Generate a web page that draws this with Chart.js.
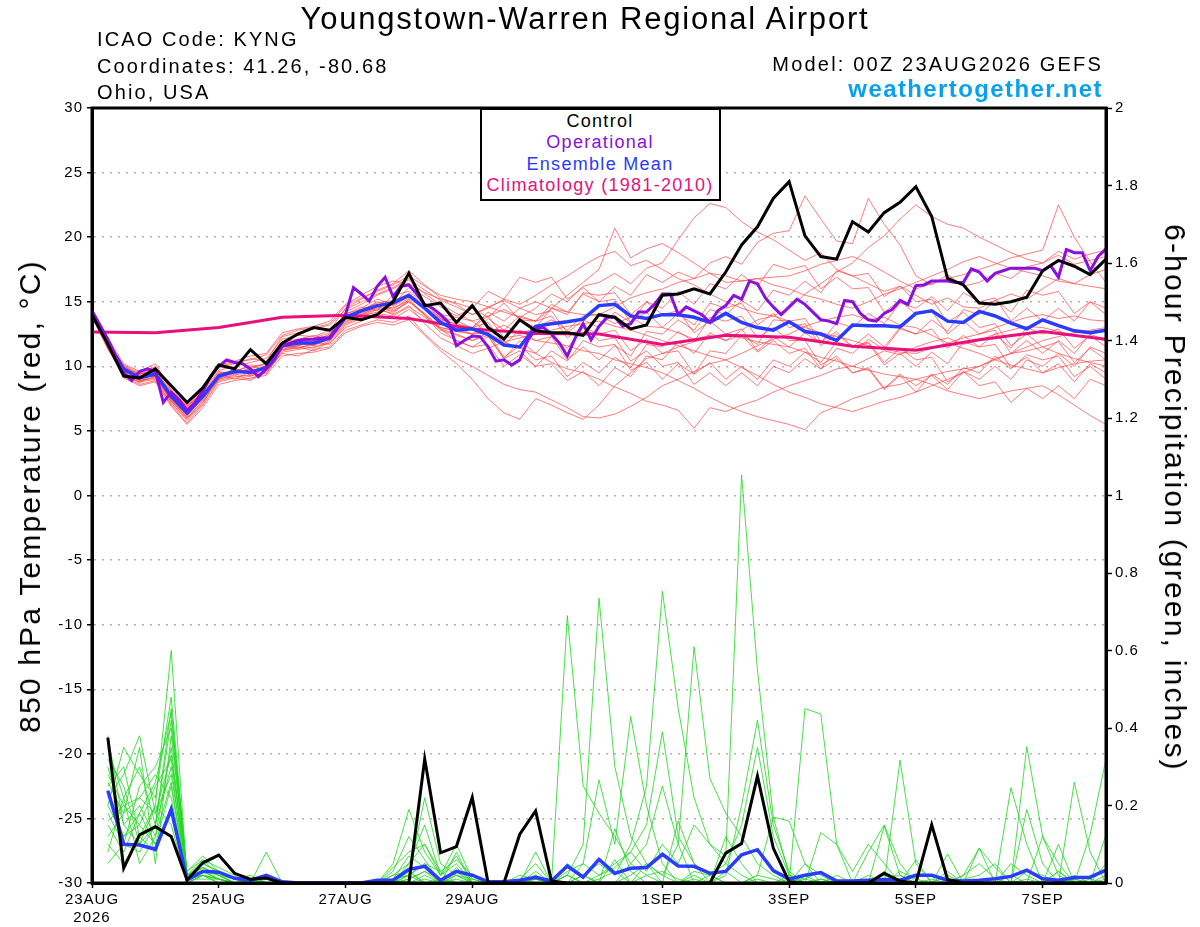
<!DOCTYPE html>
<html>
<head>
<meta charset="utf-8">
<title>Youngstown-Warren Regional Airport - GEFS</title>
<script src="https://cdn.jsdelivr.net/npm/chart.js@4.4.0/dist/chart.umd.min.js"></script>
<style>
    html, body { margin: 0; padding: 0; background: #fff; }
    #wrap { position: relative; width: 1200px; height: 927px; overflow: hidden;
            font-family: "Liberation Sans", Arial, sans-serif; color: #000; }
    #wrap canvas { position: absolute; left: 0; top: 0; }
    .txt { position: absolute; white-space: nowrap; line-height: 1; }
    #title { left: 585px; top: 3px; font-size: 31px; letter-spacing: 1.8px; transform: translateX(-50%); }
    .info { left: 97px; font-size: 20px; letter-spacing: 2.1px; }
    .model { right: 97px; font-size: 20px; letter-spacing: 2.2px; }
    #site { right: 97px; top: 77px; font-size: 24px; font-weight: bold; letter-spacing: 1.4px; color: #0aa0f0; }
    #legendBox { position: absolute; left: 480px; top: 108px; width: 237px; height: 89px;
                 border: 2px solid #000; background: #fff; }
    .leg { left: 600px; font-size: 18px; letter-spacing: 1.3px; transform: translateX(-50%); }
    .axisTitle { font-size: 30px; letter-spacing: 2.2px; }
    #leftTitle { left: 30px; top: 496px; transform: translate(-50%, -50%) rotate(-90deg); }
    #rightTitle { left: 1175px; top: 498px; transform: translate(-50%, -50%) rotate(90deg); }
</style>
</head>
<body>
<div id="wrap">
    <canvas id="gefsChart" width="1200" height="927"></canvas>

    <div class="txt" id="title">Youngstown-Warren Regional Airport</div>
    <div class="txt info" style="top:29px">ICAO Code: KYNG</div>
    <div class="txt info" style="top:56px">Coordinates: 41.26, -80.68</div>
    <div class="txt info" style="top:82px">Ohio, USA</div>
    <div class="txt model" style="top:54px">Model: 00Z 23AUG2026 GEFS</div>
    <div class="txt" id="site">weathertogether.net</div>

    <div id="legendBox"></div>
    <div class="txt leg" style="top:112px; color:#000">Control</div>
    <div class="txt leg" style="top:133px; color:#8a10e0">Operational</div>
    <div class="txt leg" style="top:155px; color:#2a3cff">Ensemble Mean</div>
    <div class="txt leg" style="top:176px; color:#e8107c">Climatology (1981-2010)</div>

    <div class="txt axisTitle" id="leftTitle">850 hPa Temperature (red, °C)</div>
    <div class="txt axisTitle" id="rightTitle">6-hour Precipitation (green, inches)</div>
</div>

<script>
// time steps (hours) for the different series
const stepHours = 6;        // control, mean, members
const opStepHours = 3;      // operational run is 3-hourly
const climoStepHours = 24;  // climatology is daily

// x axis labels
const tickHours = [0, 48, 96, 144, 216, 264, 312, 360];
const tickLabels = [["23AUG", "2026"], "25AUG", "27AUG", "29AUG", "1SEP", "3SEP", "5SEP", "7SEP"];

// 850 hPa temperature (C), 6-hourly from 00Z 23AUG
const tempControl = [
    14.0, 11.7, 9.25, 9.1, 9.8, 8.5, 7.2, 8.35, 10.1, 9.8, 11.3, 10.2, 11.8,
    12.5, 13.0, 12.8, 13.8, 13.6, 14.0, 15.0, 17.2, 14.7, 14.9, 13.4, 14.7,
    13.0, 12.1, 13.6, 12.75, 12.6, 12.6, 12.4, 14.0, 13.8, 12.9, 13.2, 15.5,
    15.6, 16.0, 15.6, 17.3, 19.4, 20.8, 23.0, 24.3, 20.1, 18.5, 18.3, 21.2,
    20.4, 21.9, 22.7, 23.9, 21.6, 16.8, 16.3, 14.9, 14.8, 15.0, 15.35, 17.4,
    18.2, 17.75, 17.1, 18.3
];

const tempEnsMean = [
    14.0, 11.8, 9.8, 9.1, 9.4, 7.7, 6.4, 7.7, 9.25, 9.6, 9.55, 9.9, 11.6,
    11.8, 11.8, 12.2, 13.8, 14.3, 14.7, 14.9, 15.5, 14.5, 13.4, 12.8, 12.9,
    12.45, 11.65, 11.5, 13.1, 13.3, 13.45, 13.65, 14.7, 14.8, 13.9, 13.7, 14.0,
    14.0, 13.8, 13.4, 14.1, 13.4, 13.0, 12.8, 13.45, 12.7, 12.5, 12.0, 13.2,
    13.15, 13.15, 13.05, 14.1, 14.3, 13.5, 13.4, 14.25, 13.9, 13.35, 12.9, 13.6,
    13.15, 12.75, 12.6, 12.8
];

// operational run, 3-hourly
const tempOperational = [
    14.3, 13.2, 12.1, 10.8, 9.5, 8.9, 9.6, 9.8, 9.6, 7.2, 8.0, 7.4, 6.6,
    7.2, 8.1, 9.25, 10.0, 10.5, 10.3, 10.2, 9.8, 9.2, 9.8, 10.5, 11.6,
    11.8, 12.0, 12.1, 12.1, 12.2, 12.2, 13.0, 14.0, 16.1, 15.6, 15.05, 16.2,
    16.9, 15.4, 16.2, 16.3, 15.6, 14.8, 14.5, 14.0, 13.4, 11.6, 12.0, 12.35,
    12.3, 11.5, 10.4, 10.5, 10.1, 10.5, 12.0, 12.9, 13.0, 12.5, 11.8, 10.8,
    12.2, 13.3, 12.05, 13.1, 13.8, 13.8, 13.1, 13.3, 14.2, 14.2, 14.8, 15.6,
    15.6, 14.0, 14.6, 14.3, 14.0, 13.4, 14.3, 14.7, 15.5, 15.2, 16.6, 16.4,
    15.3, 14.6, 14.0, 14.6, 15.2, 14.8, 14.2, 13.6, 13.5, 13.3, 15.1, 15.0,
    14.1, 13.6, 13.5, 14.1, 14.4, 15.1, 14.8, 16.25, 16.3, 16.6, 16.6, 16.6,
    16.5, 16.5, 17.55, 17.3, 16.6, 17.2, 17.4, 17.6, 17.6, 17.6, 17.6, 17.4,
    17.8, 16.9, 19.05, 18.8, 18.8, 17.4, 18.5, 19.1
];

// 1981-2010 climatology, daily
const tempClimo = [12.65, 12.6, 13.0, 13.8, 13.95, 13.7, 12.9, 12.55, 12.5,
    11.7, 12.4, 12.25, 11.55, 11.25, 12.05, 12.7, 12.1];

// ensemble members, 6-hourly (twelve values per row = three days)
const tempMem01 = [
    14.2, 11.9, 9.6, 9.0, 9.8, 7.6, 6.2, 7.9, 9.6, 9.4, 9.9, 10.2,
    11.9, 12.1, 12.4, 12.0, 13.6, 14.5, 15.2, 14.8, 16.1, 15.4, 14.6, 13.9,
    14.5, 13.8, 14.9, 13.6, 13.5, 14.8, 14.2, 15.6, 15.0, 16.2, 15.5, 17.1,
    16.5, 17.3, 16.8, 18.0, 18.5, 17.9, 19.6, 20.3, 20.5, 23.2, 21.4, 19.7,
    19.5, 23.0, 21.0, 19.4, 17.0, 16.3, 17.1, 16.2, 16.5, 17.2, 16.8, 17.7,
    18.0, 18.9, 18.3, 18.7, 19.0
];
const tempMem02 = [
    13.9, 11.6, 9.9, 9.3, 9.2, 7.9, 6.6, 7.5, 9.0, 9.9, 9.3, 10.1,
    11.4, 11.6, 12.2, 12.6, 14.0, 14.6, 14.3, 15.5, 15.8, 14.9, 13.7, 13.2,
    13.0, 13.9, 14.4, 13.8, 14.5, 15.6, 15.0, 16.2, 16.5, 17.2, 16.4, 17.6,
    18.0, 19.8, 21.5, 22.6, 22.3, 21.2, 20.4, 19.8, 19.0, 18.2, 18.8, 17.5,
    17.0, 16.4, 15.8, 16.2, 15.5, 14.8, 15.3, 14.6, 14.5, 15.1, 15.6, 15.2,
    16.0, 16.8, 16.4, 17.1, 17.5
];
const tempMem03 = [
    14.1, 11.5, 9.4, 8.7, 9.6, 7.2, 5.8, 7.1, 9.4, 9.0, 9.6, 9.4,
    11.2, 11.5, 11.2, 11.9, 13.3, 13.8, 14.4, 14.1, 15.2, 14.0, 12.8, 12.4,
    12.0, 12.6, 13.2, 12.5, 13.0, 13.6, 12.8, 13.9, 14.0, 13.3, 13.8, 13.1,
    13.0, 12.6, 12.1, 12.4, 12.0, 12.8, 13.6, 13.9, 14.5, 15.6, 16.4, 17.3,
    18.0, 19.2, 20.1, 21.4, 22.5, 21.6, 21.0, 20.7, 20.0, 19.4, 18.8, 18.3,
    18.0, 18.6, 17.9, 18.2, 18.5
];
const tempMem04 = [
    13.8, 11.9, 10.1, 9.5, 9.3, 8.1, 6.9, 8.0, 9.1, 9.7, 9.4, 10.0,
    11.6, 11.4, 11.7, 12.3, 13.9, 14.2, 14.8, 14.5, 15.1, 13.9, 12.6, 12.0,
    11.5, 12.3, 10.6, 11.2, 10.0, 10.2, 8.9, 9.6, 8.5, 9.9, 9.2, 10.8,
    10.5, 11.9, 11.0, 12.6, 12.0, 12.4, 11.1, 12.0, 11.0, 11.4, 9.8, 10.6,
    9.5, 9.8, 8.2, 9.3, 8.0, 9.4, 8.6, 9.9, 9.5, 10.8, 9.8, 10.9,
    10.5, 10.8, 9.2, 10.0, 9.0
];
const tempMem05 = [
    14.0, 12.1, 9.7, 9.2, 9.5, 7.4, 6.3, 7.8, 9.3, 9.5, 9.8, 10.3,
    11.8, 12.0, 11.6, 12.4, 14.2, 14.8, 15.5, 16.0, 16.7, 15.6, 14.8, 14.1,
    13.5, 12.6, 11.9, 11.4, 11.0, 10.3, 9.8, 9.5, 9.0, 8.4, 7.9, 7.3,
    7.0, 6.6, 5.2, 6.8, 6.5, 7.0, 7.4, 8.0, 8.5, 8.9, 9.3, 9.8,
    10.0, 10.6, 11.2, 10.9, 11.5, 11.9, 12.2, 11.7, 12.0, 12.5, 12.8, 13.1,
    13.0, 12.7, 12.4, 12.2, 12.0
];
const tempMem06 = [
    14.3, 11.4, 9.2, 8.6, 8.9, 7.0, 5.6, 7.0, 8.8, 9.1, 8.9, 9.6,
    11.0, 10.8, 11.3, 11.5, 12.8, 13.2, 13.6, 13.4, 13.9, 12.5, 11.4, 10.6,
    10.0, 9.3, 8.6, 8.2, 8.0, 7.4, 6.8, 6.1, 6.0, 6.3, 6.9, 7.6,
    8.5, 9.0, 9.6, 10.2, 10.5, 11.0, 11.6, 12.1, 12.5, 13.1, 13.5, 13.8,
    14.0, 13.6, 13.8, 13.2, 13.0, 12.4, 11.8, 11.4, 11.0, 10.5, 10.1, 9.8,
    9.5, 9.9, 10.2, 10.4, 10.5
];
const tempMem07 = [
    14.0, 11.8, 9.9, 9.4, 9.7, 8.0, 6.8, 8.2, 9.9, 10.2, 10.6, 10.4,
    12.3, 12.6, 12.9, 13.2, 14.4, 15.0, 15.6, 16.1, 16.8, 15.9, 15.1, 14.6,
    14.0, 14.5, 15.2, 14.8, 15.5, 16.3, 17.0, 17.8, 18.5, 18.9, 17.8, 18.2,
    17.5, 16.8, 16.3, 15.6, 15.0, 14.5, 14.1, 13.9, 13.5, 13.0, 12.6, 12.3,
    12.0, 11.6, 11.3, 11.1, 11.0, 11.4, 11.8, 12.2, 12.5, 13.0, 13.4, 13.8,
    14.0, 13.7, 13.9, 13.6, 13.5
];
const tempMem08 = [
    14.2, 12.0, 9.5, 8.9, 9.1, 7.3, 6.1, 7.6, 9.5, 9.6, 10.1, 10.0,
    11.5, 11.9, 12.1, 12.2, 13.7, 14.0, 14.6, 14.2, 15.0, 14.1, 13.0, 12.8,
    12.5, 12.9, 12.2, 12.4, 12.0, 11.8, 11.6, 11.2, 11.0, 10.5, 10.2, 9.9,
    9.5, 8.9, 8.3, 7.6, 7.0, 6.5, 6.1, 5.8, 5.5, 5.1, 6.4, 6.9,
    7.5, 7.9, 8.4, 8.6, 9.0, 9.3, 9.6, 9.8, 10.0, 10.6, 11.0, 11.2,
    11.5, 11.0, 10.6, 10.3, 10.0
];
const tempMem09 = [
    13.9, 11.7, 9.8, 9.0, 9.4, 7.7, 6.5, 7.7, 9.2, 9.8, 9.5, 9.8,
    11.7, 11.8, 12.0, 12.1, 13.9, 14.3, 15.0, 14.7, 15.5, 14.6, 13.8, 13.5,
    13.0, 14.2, 13.5, 14.5, 14.0, 14.3, 12.6, 13.6, 13.0, 14.2, 13.4, 15.0,
    14.5, 15.8, 14.8, 16.4, 16.0, 17.1, 16.2, 17.9, 17.5, 17.8, 16.0, 16.9,
    16.0, 16.1, 14.2, 15.1, 14.0, 14.3, 12.5, 13.5, 12.5, 12.8, 11.0, 12.0,
    11.0, 12.0, 11.0, 12.5, 12.0
];
const tempMem10 = [
    14.1, 11.6, 9.6, 9.1, 9.6, 7.5, 6.0, 7.3, 9.0, 9.3, 9.0, 9.7,
    11.3, 11.4, 11.8, 11.7, 13.2, 13.7, 14.1, 13.9, 14.6, 13.8, 12.9, 12.5,
    12.0, 12.4, 10.6, 12.0, 11.0, 12.3, 11.4, 13.0, 12.5, 12.8, 11.2, 12.1,
    11.0, 11.2, 9.4, 10.3, 9.0, 10.0, 9.0, 10.5, 10.0, 11.1, 10.3, 11.9,
    11.5, 11.9, 10.3, 11.4, 10.5, 10.7, 8.8, 9.6, 8.5, 8.8, 7.2, 8.3,
    7.5, 8.5, 7.5, 9.0, 8.5
];
const tempMem11 = [
    14.0, 11.9, 10.0, 9.3, 9.9, 7.8, 6.7, 8.1, 9.7, 10.0, 10.3, 10.6,
    12.1, 12.4, 12.3, 12.8, 14.5, 15.2, 15.9, 16.4, 17.4, 16.3, 15.3, 14.8,
    14.0, 14.6, 15.1, 14.5, 15.0, 14.5, 14.2, 14.0, 14.0, 14.6, 15.3, 15.7,
    16.0, 16.5, 16.8, 17.2, 17.0, 16.6, 16.8, 16.3, 16.0, 15.5, 15.2, 14.8,
    14.5, 15.0, 15.6, 16.0, 16.5, 17.0, 17.5, 18.1, 18.5, 18.0, 17.6, 17.3,
    17.0, 16.6, 16.4, 16.2, 16.0
];
const tempMem12 = [
    14.4, 11.5, 9.1, 8.5, 8.8, 6.9, 5.5, 6.8, 8.6, 8.9, 9.1, 9.3,
    10.8, 11.0, 11.1, 11.4, 12.6, 13.1, 13.4, 13.2, 13.6, 12.4, 11.2, 10.2,
    9.0, 7.5, 6.4, 5.9, 7.5, 7.0, 6.4, 5.9, 7.0, 8.5, 9.5, 10.6,
    11.0, 11.5, 11.9, 12.2, 12.5, 12.2, 11.9, 11.7, 11.5, 11.1, 10.7, 10.4,
    10.0, 9.7, 9.4, 9.2, 9.0, 8.6, 8.1, 7.8, 7.5, 7.8, 8.1, 8.3,
    8.5, 7.8, 7.0, 6.2, 5.5
];
const tempMem13 = [
    13.9, 11.8, 9.7, 9.1, 9.3, 7.8, 6.5, 7.9, 9.4, 9.7, 9.6, 10.0,
    11.6, 11.7, 11.9, 12.5, 14.1, 14.4, 14.9, 15.1, 15.6, 14.8, 14.0, 13.8,
    13.5, 13.9, 12.2, 13.6, 13.0, 14.5, 14.0, 15.7, 15.5, 15.7, 14.0, 15.0,
    14.0, 14.3, 12.6, 13.5, 12.5, 12.9, 11.2, 12.3, 11.5, 12.6, 11.8, 13.4,
    13.0, 14.1, 13.3, 14.9, 14.5, 15.4, 14.3, 15.7, 15.0, 15.3, 13.5, 14.5,
    13.5, 14.5, 13.5, 15.0, 14.5
];
const tempMem14 = [
    14.2, 11.7, 9.3, 8.8, 9.0, 7.1, 5.9, 7.2, 8.9, 9.2, 9.3, 9.5,
    11.1, 11.3, 11.5, 11.8, 13.0, 13.5, 14.0, 13.7, 14.4, 13.5, 13.0, 12.7,
    12.5, 12.6, 10.7, 11.6, 10.5, 10.8, 9.2, 10.3, 9.5, 10.7, 9.9, 11.7,
    11.5, 12.7, 11.9, 13.8, 13.5, 13.9, 12.2, 13.0, 12.0, 12.0, 10.1, 10.8,
    9.5, 9.9, 8.3, 9.4, 8.5, 9.3, 8.2, 9.6, 9.0, 10.0, 9.0, 10.5,
    10.0, 11.0, 10.0, 11.5, 11.0
];
const tempMem15 = [
    14.0, 12.2, 10.2, 9.6, 10.2, 8.2, 7.0, 8.4, 10.1, 10.4, 10.8, 11.0,
    12.6, 12.9, 13.1, 13.5, 14.8, 15.5, 16.2, 16.6, 16.4, 15.7, 15.2, 14.9,
    14.5, 15.8, 15.2, 16.9, 16.5, 16.9, 15.2, 16.1, 15.0, 15.2, 13.4, 14.2,
    13.0, 14.1, 13.2, 14.9, 14.5, 14.9, 13.2, 14.1, 13.0, 13.3, 11.6, 12.5,
    11.5, 12.5, 11.5, 13.0, 12.5, 13.6, 12.7, 14.4, 14.0, 15.1, 14.2, 15.9,
    15.5, 15.8, 14.1, 15.0, 14.0
];
const tempMem16 = [
    13.8, 11.3, 9.5, 8.9, 9.2, 7.4, 6.2, 7.5, 9.0, 9.4, 9.2, 9.9,
    11.3, 11.6, 11.4, 12.0, 13.4, 13.9, 14.5, 14.0, 14.7, 13.3, 12.2, 11.6,
    11.0, 11.4, 11.9, 12.2, 12.5, 12.8, 13.1, 13.3, 13.5, 13.1, 12.8, 12.4,
    12.0, 11.6, 11.2, 10.8, 10.5, 9.9, 9.3, 8.6, 8.0, 7.6, 7.1, 6.8,
    6.5, 6.9, 7.3, 7.6, 8.0, 8.5, 9.0, 9.5, 10.0, 10.5, 11.0, 11.5,
    12.0, 12.3, 12.6, 12.8, 13.0
];
const tempMem17 = [
    14.1, 11.8, 9.8, 9.2, 9.6, 7.6, 6.3, 7.7, 9.4, 9.6, 10.0, 9.8,
    11.7, 11.9, 12.1, 12.4, 13.8, 14.1, 14.7, 14.4, 15.3, 14.4, 13.6, 13.3,
    13.0, 13.4, 11.7, 12.8, 12.0, 12.3, 10.5, 11.5, 10.5, 11.6, 10.8, 12.7,
    12.5, 13.6, 12.8, 14.4, 14.0, 15.1, 14.3, 15.9, 15.5, 16.6, 15.7, 17.4,
    17.0, 17.2, 15.4, 16.2, 15.0, 15.2, 13.4, 14.2, 13.0, 13.3, 11.6, 12.5,
    11.5, 11.9, 10.3, 11.4, 10.5
];
const tempMem18 = [
    13.9, 11.6, 9.4, 8.8, 9.2, 7.3, 6.0, 7.4, 9.1, 9.5, 9.7, 9.9,
    11.5, 11.6, 11.9, 12.2, 13.5, 13.9, 14.2, 14.6, 15.4, 14.5, 13.7, 13.0,
    12.5, 13.7, 12.8, 13.9, 13.5, 13.9, 12.2, 13.1, 12.0, 12.2, 10.4, 11.2,
    10.0, 10.3, 8.6, 9.5, 8.5, 9.5, 8.5, 10.0, 9.5, 10.6, 9.8, 11.4,
    11.0, 12.1, 11.3, 12.9, 12.5, 12.9, 11.4, 12.4, 11.5, 11.7, 9.9, 10.7,
    9.5, 10.2, 8.8, 10.2, 9.5
];
const tempMem19 = [
    14.0, 12.0, 10.0, 9.4, 10.0, 8.1, 6.9, 8.3, 10.0, 10.3, 10.5, 10.9,
    12.4, 12.8, 13.0, 13.3, 14.7, 15.3, 15.8, 16.3, 17.0, 16.2, 15.5, 15.2,
    15.0, 14.6, 14.2, 13.8, 13.5, 14.5, 15.5, 16.5, 17.5, 20.7, 18.4, 19.1,
    19.5, 18.8, 18.0, 17.2, 16.5, 16.6, 16.8, 16.9, 17.0, 17.4, 17.9, 18.2,
    18.5, 18.0, 17.3, 16.6, 16.0, 16.4, 16.8, 17.1, 17.5, 17.9, 18.4, 18.7,
    19.0, 22.5, 20.0, 18.1, 16.5
];
const tempMem20 = [
    14.1, 11.7, 9.7, 9.2, 9.4, 7.5, 6.3, 7.6, 9.3, 9.6, 9.4, 9.9,
    11.5, 11.8, 11.6, 12.1, 13.6, 14.0, 14.6, 14.3, 15.0, 14.0, 12.9, 12.0,
    11.5, 11.7, 10.0, 10.9, 10.0, 11.2, 10.4, 12.0, 11.5, 11.7, 9.7, 10.3,
    9.0, 10.2, 9.4, 11.2, 11.0, 12.4, 11.7, 13.6, 13.5, 13.7, 11.9, 12.7,
    11.5, 11.8, 10.1, 11.0, 10.0, 11.1, 10.2, 11.9, 11.5, 12.5, 11.4, 13.0,
    12.5, 12.9, 11.4, 12.4, 11.5
];
const tempMembers = [tempMem01, tempMem02, tempMem03, tempMem04, tempMem05, tempMem06, tempMem07,
    tempMem08, tempMem09, tempMem10, tempMem11, tempMem12, tempMem13, tempMem14, tempMem15,
    tempMem16, tempMem17, tempMem18, tempMem19, tempMem20];

// 6-hour precipitation (inches), first value is the 06Z 23AUG accumulation
const precipControl = [
    0.375, 0.038, 0.124, 0.145, 0.12, 0.008, 0.052, 0.072, 0.025, 0.01, 0.013, 0,
    0, 0, 0, 0, 0, 0, 0, 0, 0.32, 0.078, 0.094, 0.221,
    0, 0, 0.126, 0.186, 0.005, 0, 0, 0, 0, 0, 0, 0,
    0, 0, 0, 0.077, 0.102, 0.276, 0.09, 0.003, 0, 0, 0, 0,
    0, 0.025, 0.005, 0, 0.15, 0.009, 0, 0, 0, 0, 0, 0,
    0, 0, 0, 0
];
const precipEnsMean = [
    0.238, 0.10, 0.098, 0.087, 0.19, 0.008, 0.03, 0.028, 0.012, 0.007, 0.02, 0.003,
    0, 0, 0, 0, 0, 0.007, 0.007, 0.035, 0.043, 0.007, 0.03, 0.02,
    0.003, 0.003, 0.007, 0.015, 0.005, 0.044, 0.015, 0.061, 0.025, 0.038, 0.04, 0.074,
    0.044, 0.043, 0.025, 0.03, 0.073, 0.086, 0.032, 0.01, 0.02, 0.027, 0.005, 0.005,
    0.007, 0.009, 0.007, 0.02, 0.02, 0.007, 0.005, 0.007, 0.011, 0.017, 0.033, 0.011,
    0.007, 0.014, 0.015, 0.033
];

const precipMem01 = [
    0.20, 0.12, 0.15, 0.10, 0.18, 0.01, 0.03, 0.02, 0, 0.01, 0, 0, 0, 0, 0, 0,
    0, 0, 0.01, 0.02, 0.05, 0.01, 0.03, 0, 0, 0, 0, 0.02, 0, 0.03, 0.05, 0.02,
    0.04, 0.08, 0.03, 0.10, 0.05, 0.15, 0.10, 0.07, 1.053, 0.55, 0.17, 0.02, 0, 0.01, 0, 0,
    0.02, 0, 0.03, 0.01, 0, 0, 0.02, 0.05, 0.01, 0, 0.03, 0.02, 0, 0.01, 0, 0.02
];
const precipMem02 = [
    0.35, 0.22, 0.30, 0.15, 0.45, 0.02, 0.05, 0.03, 0.01, 0.02, 0, 0, 0, 0, 0, 0,
    0, 0, 0.02, 0.05, 0.10, 0.03, 0.06, 0.02, 0, 0, 0, 0.02, 0, 0.69, 0.25, 0.18,
    0.12, 0.05, 0.02, 0.03, 0.01, 0, 0, 0, 0, 0.02, 0.01, 0, 0.05, 0.02, 0, 0,
    0, 0.03, 0, 0.06, 0, 0, 0.01, 0.02, 0.05, 0, 0.01, 0, 0, 0.02, 0, 0.01
];
const precipMem03 = [
    0.25, 0.30, 0.12, 0.20, 0.60, 0.01, 0.04, 0.02, 0, 0, 0.01, 0, 0, 0, 0, 0,
    0, 0, 0, 0.01, 0.03, 0, 0.02, 0, 0, 0, 0, 0.01, 0, 0.02, 0.10, 0.735,
    0.30, 0.12, 0.05, 0.02, 0, 0.01, 0, 0.03, 0, 0.01, 0, 0, 0.45, 0.436, 0.10, 0,
    0, 0.01, 0.02, 0, 0, 0.03, 0, 0, 0, 0.05, 0.02, 0, 0, 0.01, 0, 0
];
const precipMem04 = [
    0.18, 0.10, 0.25, 0.30, 0.40, 0.02, 0.06, 0.04, 0.02, 0, 0.08, 0, 0, 0, 0, 0,
    0, 0, 0.05, 0.19, 0.08, 0.02, 0.10, 0.01, 0, 0, 0, 0.03, 0, 0, 0.02, 0.05,
    0.02, 0.10, 0.25, 0.753, 0.45, 0.22, 0.10, 0.05, 0.02, 0, 0, 0.01, 0, 0, 0.02, 0,
    0, 0.02, 0, 0, 0.01, 0, 0, 0, 0, 0.02, 0, 0, 0.03, 0, 0, 0.05
];
const precipMem05 = [
    0.30, 0.15, 0.20, 0.12, 0.35, 0.01, 0.02, 0.01, 0, 0.01, 0, 0, 0, 0, 0, 0,
    0, 0, 0, 0.02, 0.22, 0.05, 0.02, 0.01, 0, 0, 0.01, 0.05, 0, 0.02, 0, 0.01,
    0.03, 0, 0.05, 0.02, 0.10, 0.61, 0.27, 0.18, 0.12, 0.05, 0.02, 0, 0.01, 0.03, 0, 0,
    0.08, 0.15, 0.05, 0, 0, 0, 0.02, 0.09, 0.04, 0, 0, 0.12, 0.02, 0, 0, 0
];
const precipMem06 = [
    0.22, 0.28, 0.38, 0.18, 0.28, 0.03, 0.07, 0.03, 0.01, 0, 0.02, 0, 0, 0, 0, 0,
    0, 0, 0.01, 0.07, 0.04, 0, 0.08, 0, 0, 0, 0.02, 0.01, 0, 0, 0.05, 0.266,
    0.10, 0.43, 0.20, 0.05, 0, 0.02, 0, 0, 0, 0, 0, 0.02, 0, 0, 0, 0,
    0, 0, 0.317, 0.05, 0, 0, 0, 0, 0, 0, 0, 0, 0.03, 0, 0.01, 0
];
const precipMem07 = [
    0.15, 0.08, 0.18, 0.10, 0.25, 0, 0.02, 0.01, 0, 0, 0, 0, 0, 0, 0, 0,
    0, 0, 0, 0, 0.02, 0, 0.04, 0, 0, 0, 0, 0, 0, 0, 0, 0.02,
    0.05, 0.08, 0.15, 0.39, 0.12, 0.05, 0, 0.02, 0.20, 0.42, 0.15, 0.03, 0, 0.01, 0, 0,
    0, 0, 0, 0, 0, 0, 0, 0, 0, 0.246, 0.10, 0, 0, 0, 0, 0
];
const precipMem08 = [
    0.28, 0.20, 0.15, 0.25, 0.32, 0.02, 0.04, 0.02, 0, 0, 0, 0, 0, 0, 0, 0,
    0, 0, 0.02, 0.03, 0, 0.01, 0, 0, 0, 0, 0, 0, 0, 0.02, 0, 0,
    0, 0.05, 0.10, 0.25, 0.10, 0, 0.02, 0.05, 0.15, 0.35, 0.12, 0.02, 0.01, 0, 0, 0,
    0, 0, 0, 0, 0, 0.02, 0, 0, 0, 0, 0.352, 0.12, 0.05, 0, 0, 0
];
const precipMem09 = [
    0.12, 0.18, 0.22, 0.28, 0.22, 0.01, 0.03, 0.01, 0, 0, 0, 0, 0, 0, 0, 0,
    0, 0, 0.03, 0.12, 0.06, 0, 0.02, 0, 0, 0, 0, 0, 0, 0.05, 0.02, 0,
    0.14, 0.03, 0, 0, 0.16, 0.05, 0.02, 0, 0, 0, 0, 0, 0, 0.13, 0.10, 0.03,
    0.10, 0.05, 0, 0, 0, 0, 0, 0, 0, 0, 0.19, 0.05, 0, 0.26, 0.08, 0
];
const precipMem10 = [
    0.32, 0.25, 0.10, 0.15, 0.42, 0.01, 0.05, 0.03, 0.01, 0, 0, 0, 0, 0, 0, 0,
    0, 0, 0, 0.05, 0.15, 0.02, 0.05, 0, 0, 0, 0, 0.01, 0, 0, 0.02, 0,
    0, 0.02, 0.05, 0, 0, 0.03, 0.02, 0, 0, 0.02, 0.17, 0.16, 0.05, 0, 0, 0,
    0, 0.147, 0.02, 0, 0, 0, 0, 0, 0, 0, 0, 0, 0.10, 0, 0.125, 0.32
];
const precipMem11 = [
    0.05, 0.10, 0.08, 0.15, 0.30, 0, 0.02, 0, 0, 0, 0, 0, 0, 0, 0, 0,
    0, 0, 0, 0, 0.01, 0, 0, 0, 0, 0, 0, 0, 0, 0, 0, 0,
    0, 0, 0, 0, 0, 0, 0, 0.12, 0.05, 0, 0, 0, 0, 0, 0, 0,
    0, 0, 0, 0, 0, 0.075, 0, 0.09, 0, 0, 0, 0, 0, 0, 0, 0.125
];
const precipMem12 = [
    0.20, 0.35, 0.28, 0.22, 0.48, 0.02, 0.03, 0.01, 0, 0, 0, 0, 0, 0, 0, 0,
    0, 0, 0.01, 0.02, 0.05, 0.03, 0, 0, 0, 0, 0, 0, 0, 0, 0, 0,
    0, 0, 0.02, 0, 0, 0, 0, 0, 0, 0, 0, 0, 0.02, 0, 0, 0,
    0, 0, 0, 0, 0, 0, 0, 0, 0, 0, 0, 0, 0, 0, 0, 0
];
const precipMem13 = [
    0.10, 0.05, 0.12, 0.08, 0.20, 0.01, 0.01, 0.01, 0, 0, 0, 0, 0, 0, 0, 0,
    0, 0, 0, 0.02, 0, 0, 0, 0, 0, 0, 0, 0, 0, 0, 0, 0,
    0, 0, 0, 0, 0, 0, 0, 0, 0, 0, 0, 0, 0, 0, 0, 0,
    0, 0, 0, 0, 0, 0, 0, 0, 0, 0, 0, 0, 0, 0, 0, 0
];
const precipMem14 = [
    0.26, 0.18, 0.35, 0.05, 0.38, 0.02, 0.04, 0.02, 0, 0, 0, 0, 0, 0, 0, 0,
    0, 0, 0, 0.03, 0, 0, 0.01, 0, 0, 0, 0, 0, 0, 0, 0, 0,
    0, 0, 0, 0, 0, 0, 0, 0, 0, 0, 0, 0, 0, 0, 0, 0,
    0, 0, 0, 0, 0, 0, 0, 0, 0, 0, 0, 0, 0, 0, 0, 0
];
const precipMem15 = [
    0.16, 0.20, 0.22, 0.18, 0.33, 0.03, 0.06, 0.02, 0.01, 0, 0, 0, 0, 0, 0, 0,
    0, 0, 0.04, 0.08, 0.10, 0.02, 0.07, 0, 0, 0, 0.01, 0, 0, 0, 0, 0,
    0.06, 0, 0, 0, 0, 0, 0, 0, 0, 0, 0, 0, 0, 0, 0, 0,
    0, 0, 0, 0, 0, 0, 0, 0, 0, 0, 0, 0, 0, 0, 0, 0
];
const precipMem16 = [
    0.38, 0.15, 0.10, 0.20, 0.15, 0, 0.02, 0.01, 0, 0, 0, 0, 0, 0, 0, 0,
    0, 0, 0, 0, 0, 0, 0, 0, 0, 0, 0, 0, 0, 0, 0, 0,
    0, 0, 0, 0, 0, 0, 0, 0, 0, 0, 0, 0, 0, 0, 0, 0,
    0, 0, 0, 0, 0, 0, 0, 0, 0, 0, 0, 0, 0, 0, 0, 0
];
const precipMem17 = [
    0.24, 0.12, 0.18, 0.26, 0.44, 0.02, 0.03, 0.01, 0, 0, 0, 0, 0, 0, 0, 0,
    0, 0, 0, 0.01, 0.03, 0.01, 0, 0, 0, 0, 0, 0, 0, 0, 0, 0,
    0, 0, 0, 0, 0, 0, 0, 0, 0, 0, 0, 0, 0, 0, 0, 0,
    0, 0, 0, 0, 0, 0, 0, 0, 0, 0, 0, 0, 0, 0, 0, 0
];
const precipMem18 = [
    0.08, 0.22, 0.05, 0.12, 0.26, 0.01, 0.02, 0, 0, 0, 0, 0, 0, 0, 0, 0,
    0, 0, 0, 0, 0, 0, 0, 0, 0, 0, 0, 0.08, 0, 0, 0, 0,
    0, 0, 0, 0, 0, 0, 0, 0, 0, 0, 0, 0, 0, 0, 0, 0,
    0, 0, 0, 0, 0, 0, 0, 0, 0, 0, 0, 0, 0, 0, 0, 0
];
const precipMembers = [precipMem01, precipMem02, precipMem03, precipMem04, precipMem05, precipMem06,
    precipMem07, precipMem08, precipMem09, precipMem10, precipMem11, precipMem12, precipMem13,
    precipMem14, precipMem15, precipMem16, precipMem17, precipMem18];

document.addEventListener("DOMContentLoaded", function () {
    const COLORS = {
        control: "#000000",
        operational: "#8a10e0",
        mean: "#2a3cff",
        climo: "#e8107c",
        memberTemp: "rgba(255, 60, 60, 0.75)",
        memberPrecip: "rgba(30, 215, 30, 0.9)",
        grid: "#b0b0b0",
    };

    // turn a value list into {x, y} points, first value at startHour
    function toPoints(values, step, startHour) {
        return values.map((v, i) => ({x: startHour + i * step, y: v}));
    }

    function line(label, values, step, startHour, color, width, axis, order) {
        return {
            label: label,
            data: toPoints(values, step, startHour),
            borderColor: color,
            borderWidth: width,
            yAxisID: axis,
            order: order,
            pointRadius: 0,
            tension: 0,
            fill: false,
        };
    }

    const datasets = [];
    // lower order is drawn on top
    datasets.push(line("Control", tempControl, stepHours, 0, COLORS.control, 3, "y", 1));
    datasets.push(line("Operational", tempOperational, opStepHours, 0, COLORS.operational, 3, "y", 2));
    datasets.push(line("Ensemble Mean", tempEnsMean, stepHours, 0, COLORS.mean, 3.5, "y", 3));
    datasets.push(line("Climatology (1981-2010)", tempClimo, climoStepHours, 0, COLORS.climo, 3, "y", 4));
    datasets.push(line("Control precip", precipControl, stepHours, stepHours, COLORS.control, 3, "y1", 1));
    datasets.push(line("Mean precip", precipEnsMean, stepHours, stepHours, COLORS.mean, 3.5, "y1", 3));
    precipMembers.forEach((m, i) => {
        datasets.push(line("Precip member " + (i + 1), m, stepHours, stepHours, COLORS.memberPrecip, 0.9, "y1", 5));
    });
    tempMembers.forEach((m, i) => {
        datasets.push(line("Member " + (i + 1), m, stepHours, 0, COLORS.memberTemp, 0.9, "y", 6));
    });

    const tickFont = {family: '"Liberation Sans", Arial, sans-serif', size: 15};

    // plot box drawn as one rectangle on top of everything
    const framePlugin = {
        id: "frame",
        beforeDraw(chart) {
            chart.ctx.letterSpacing = "1px";
        },
        afterDraw(chart) {
            const {ctx, chartArea} = chart;
            ctx.save();
            ctx.strokeStyle = "#000";
            ctx.lineWidth = 3;
            ctx.strokeRect(chartArea.left, chartArea.top,
                chartArea.right - chartArea.left, chartArea.bottom - chartArea.top);
            ctx.restore();
        },
    };

    const canvas = document.getElementById("gefsChart");
    new Chart(canvas, {
        type: "line",
        data: {datasets: datasets},
        plugins: [framePlugin],
        options: {
            responsive: false,
            maintainAspectRatio: false,
            devicePixelRatio: 1,
            animation: false,
            normalized: true,
            layout: {padding: {top: 108, left: 0, right: 0, bottom: 0}},
            plugins: {
                legend: {display: false},
                tooltip: {enabled: false},
                title: {display: false},
            },
            scales: {
                x: {
                    type: "linear",
                    min: 0,
                    max: 384,
                    afterBuildTicks: (scale) => {
                        scale.ticks = tickHours.map((h) => ({value: h}));
                    },
                    afterFit: (scale) => { scale.height = 44; },
                    ticks: {
                        autoSkip: false,
                        maxRotation: 0,
                        padding: 3,
                        color: "#000",
                        font: tickFont,
                        callback: (value) => tickLabels[tickHours.indexOf(value)],
                    },
                    grid: {drawOnChartArea: false, tickLength: 5, tickColor: "#000", tickWidth: 1.5},
                    border: {color: "#000", width: 3},
                },
                y: {
                    position: "left",
                    min: -30,
                    max: 30,
                    afterFit: (scale) => { scale.width = 92; },
                    ticks: {stepSize: 5, padding: 4, color: "#000", font: tickFont},
                    grid: {color: COLORS.grid, lineWidth: 1.5, tickLength: 5, tickColor: "#000", tickWidth: 1.5},
                    border: {color: "#000", width: 3, dash: [2, 6]},
                },
                y1: {
                    position: "right",
                    min: 0,
                    max: 2,
                    afterFit: (scale) => { scale.width = 94; },
                    ticks: {
                        stepSize: 0.2,
                        padding: 3,
                        color: "#000",
                        font: tickFont,
                        callback: (value) => String(Number(value.toFixed(1))),
                    },
                    grid: {drawOnChartArea: false, tickLength: 6, tickColor: "#000", tickWidth: 1.5},
                    border: {color: "#000", width: 3},
                },
            },
        },
    });
});
</script>
</body>
</html>
